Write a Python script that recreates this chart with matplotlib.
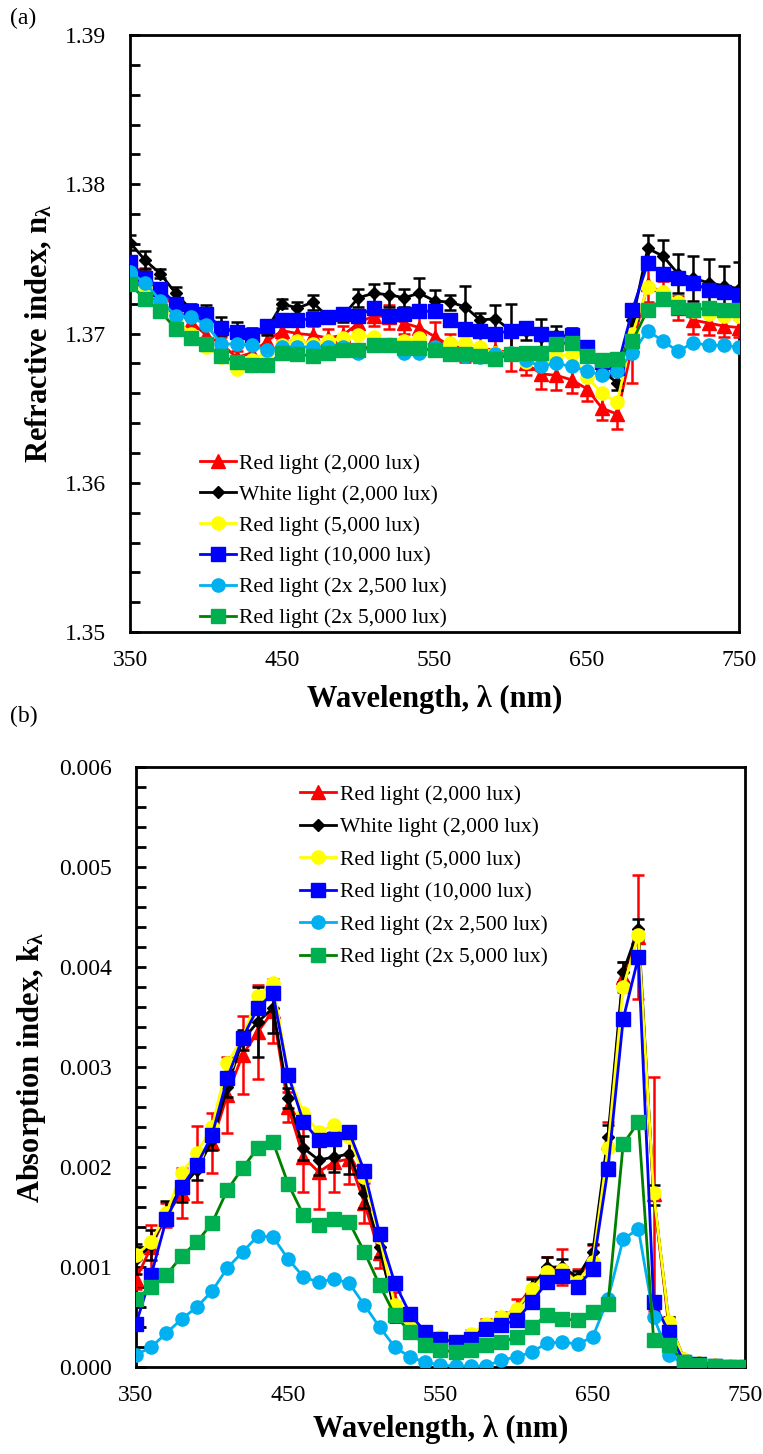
import numpy as np
import matplotlib
matplotlib.use('Agg')
import matplotlib.pyplot as plt
from matplotlib.ticker import MultipleLocator, FormatStrFormatter

plt.rcParams['font.family'] = ['Liberation Serif', 'DejaVu Serif']
plt.rcParams['mathtext.fontset'] = 'custom'
plt.rcParams['mathtext.rm'] = 'Liberation Serif'
plt.rcParams['mathtext.bf'] = 'Liberation Serif:bold'
plt.rcParams['mathtext.it'] = 'Liberation Serif:italic'

# wavelengths (nm)
wl = np.arange(350, 751, 10)
x_ticks = [350, 450, 550, 650, 750]

labels = ['Red light (2,000 lux)', 'White light (2,000 lux)', 'Red light (5,000 lux)',
          'Red light (10,000 lux)', 'Red light (2x 2,500 lux)', 'Red light (2x 5,000 lux)']

# (a) refractive index
n_red2000 = [1.3746, 1.3740, 1.3728, 1.3717, 1.3708, 1.3699, 1.3693, 1.3684, 1.3687, 1.3695,
             1.3702, 1.3700, 1.3699, 1.3697, 1.3699, 1.3707, 1.3712, 1.3711, 1.3707, 1.3704,
             1.3698, 1.3692, 1.3690, 1.3690, 1.3689, 1.3687, 1.3680, 1.3673, 1.3672, 1.3669,
             1.3663, 1.3650, 1.3646, 1.3692, 1.3733, 1.3727, 1.3717, 1.3709, 1.3707, 1.3705, 1.3704]
n_red2000_err = [0.0003, 0.0004, 0.0003, 0.0004, 0.0004, 0.0005, 0.0005, 0.0004, 0.0004, 0.0005,
                 0.0006, 0.0008, 0.0006, 0.0006, 0.0006, 0.0008, 0.0007, 0.0008, 0.0007, 0.0007,
                 0.0010, 0.0008, 0.0009, 0.0008, 0.0007, 0.0012, 0.0008, 0.0010, 0.0010, 0.0009,
                 0.0008, 0.0008, 0.0010, 0.0025, 0.0012, 0.0008, 0.0008, 0.0009, 0.0008, 0.0007, 0.0006]
n_white = [1.3761, 1.3749, 1.3740, 1.3727, 1.3716, 1.3711, 1.3705, 1.3700, 1.3699, 1.3703,
           1.3720, 1.3717, 1.3721, 1.3711, 1.3712, 1.3724, 1.3727, 1.3726, 1.3724, 1.3727,
           1.3722, 1.3721, 1.3718, 1.3709, 1.3710, 1.3702, 1.3702, 1.3698, 1.3699, 1.3698,
           1.3688, 1.3675, 1.3667, 1.3709, 1.3757, 1.3752, 1.3740, 1.3737, 1.3734, 1.3732, 1.3730]
n_white_err = [0.0005, 0.0006, 0.0003, 0.0004, 0.0004, 0.0008, 0.0006, 0.0008, 0.0005, 0.0004,
               0.0003, 0.0004, 0.0005, 0.0004, 0.0004, 0.0006, 0.0006, 0.0008, 0.0006, 0.0010,
               0.0007, 0.0005, 0.0014, 0.0005, 0.0009, 0.0018, 0.0006, 0.0012, 0.0006, 0.0006,
               0.0006, 0.0005, 0.0005, 0.0007, 0.0009, 0.0011, 0.0013, 0.0015, 0.0016, 0.0013, 0.0018]
n_red5000 = [1.3740, 1.3732, 1.3721, 1.3709, 1.3700, 1.3691, 1.3684, 1.3676, 1.3682, 1.3688,
             1.3692, 1.3695, 1.3693, 1.3695, 1.3697, 1.3699, 1.3698, 1.3693, 1.3695, 1.3697,
             1.3689, 1.3694, 1.3694, 1.3691, 1.3687, 1.3687, 1.3681, 1.3680, 1.3685, 1.3686,
             1.3671, 1.3660, 1.3654, 1.3700, 1.3731, 1.3728, 1.3721, 1.3715, 1.3713, 1.3712, 1.3712]
n_red10000 = [1.3748, 1.3737, 1.3730, 1.3720, 1.3715, 1.3713, 1.3704, 1.3701, 1.3699, 1.3705,
              1.3709, 1.3709, 1.3710, 1.3711, 1.3713, 1.3712, 1.3717, 1.3712, 1.3713, 1.3715,
              1.3715, 1.3709, 1.3703, 1.3702, 1.3700, 1.3702, 1.3704, 1.3700, 1.3697, 1.3699,
              1.3691, 1.3681, 1.3677, 1.3716, 1.3747, 1.3740, 1.3737, 1.3734, 1.3729, 1.3728, 1.3726]
n_red2x2500 = [1.3741, 1.3734, 1.3722, 1.3712, 1.3711, 1.3706, 1.3693, 1.3693, 1.3692, 1.3689,
               1.3691, 1.3691, 1.3691, 1.3691, 1.3691, 1.3687, 1.3692, 1.3692, 1.3687, 1.3687,
               1.3691, 1.3686, 1.3685, 1.3684, 1.3686, 1.3687, 1.3682, 1.3678, 1.3680, 1.3678,
               1.3675, 1.3672, 1.3675, 1.3687, 1.3702, 1.3695, 1.3688, 1.3694, 1.3692, 1.3692, 1.3691]
n_red2x5000 = [1.3733, 1.3723, 1.3715, 1.3703, 1.3697, 1.3693, 1.3685, 1.3681, 1.3679, 1.3679,
               1.3687, 1.3686, 1.3685, 1.3687, 1.3689, 1.3689, 1.3692, 1.3692, 1.3690, 1.3690,
               1.3689, 1.3686, 1.3686, 1.3685, 1.3683, 1.3686, 1.3687, 1.3687, 1.3693, 1.3694,
               1.3685, 1.3682, 1.3683, 1.3695, 1.3716, 1.3723, 1.3718, 1.3716, 1.3717, 1.3716, 1.3716]

# (b) absorption index, in units of 1e-3
k_red2000 = [0.88, 1.20, 1.52, 1.74, 2.03, 2.24, 2.72, 3.12, 3.35, 3.56,
             2.60, 2.10, 1.95, 2.05, 2.08, 1.64, 1.14, 0.65, 0.45, 0.35,
             0.28, 0.25, 0.32, 0.42, 0.48, 0.60, 0.80, 0.95, 1.00, 0.88,
             1.10, 2.25, 3.90, 4.30, 1.73, 0.40, 0.08, 0.04, 0.02, 0.01, 0.00]
k_red2000_err = [0.10, 0.22, 0.12, 0.25, 0.38, 0.30, 0.38, 0.39, 0.47, 0.32,
                 0.15, 0.35, 0.37, 0.30, 0.25, 0.20, 0.15, 0.10, 0.08, 0.05,
                 0.05, 0.04, 0.05, 0.06, 0.07, 0.08, 0.10, 0.15, 0.18, 0.10,
                 0.12, 0.20, 0.15, 0.62, 1.17, 0.10, 0.03, 0.02, 0.01, 0.01, 0.01]
k_white = [1.08, 1.22, 1.54, 1.80, 1.97, 2.27, 2.80, 3.27, 3.45, 3.59,
           2.69, 2.19, 2.07, 2.10, 2.13, 1.74, 1.20, 0.55, 0.40, 0.33,
           0.28, 0.25, 0.30, 0.40, 0.45, 0.55, 0.80, 1.00, 1.00, 0.90,
           1.15, 2.30, 3.95, 4.38, 1.72, 0.45, 0.08, 0.05, 0.02, 0.01, 0.00]
k_white_err = [0.15, 0.15, 0.12, 0.15, 0.10, 0.10, 0.10, 0.10, 0.35, 0.25,
               0.10, 0.12, 0.15, 0.15, 0.20, 0.15, 0.10, 0.10, 0.05, 0.04,
               0.03, 0.03, 0.04, 0.04, 0.05, 0.05, 0.08, 0.10, 0.08, 0.06,
               0.08, 0.12, 0.10, 0.10, 0.10, 0.05, 0.02, 0.01, 0.01, 0.01, 0.01]
k_red5000 = [1.12, 1.25, 1.54, 1.94, 2.14, 2.40, 3.04, 3.29, 3.71, 3.84,
             2.92, 2.54, 2.35, 2.42, 2.30, 1.90, 1.30, 0.62, 0.45, 0.35,
             0.30, 0.25, 0.33, 0.43, 0.50, 0.58, 0.78, 0.95, 0.97, 0.85,
             1.05, 2.19, 3.80, 4.32, 1.74, 0.45, 0.08, 0.04, 0.02, 0.01, 0.00]
k_red10000 = [0.43, 0.92, 1.48, 1.80, 2.02, 2.32, 2.89, 3.29, 3.59, 3.74,
              2.92, 2.45, 2.27, 2.28, 2.35, 1.96, 1.33, 0.84, 0.53, 0.35,
              0.28, 0.25, 0.28, 0.38, 0.42, 0.47, 0.65, 0.85, 0.91, 0.80,
              0.98, 1.98, 3.48, 4.10, 0.65, 0.35, 0.05, 0.03, 0.01, 0.00, 0.00]
k_red2x2500 = [0.12, 0.20, 0.34, 0.48, 0.60, 0.76, 0.99, 1.15, 1.31, 1.30,
               1.08, 0.90, 0.85, 0.88, 0.84, 0.62, 0.40, 0.20, 0.10, 0.05,
               0.02, 0.01, 0.01, 0.01, 0.07, 0.10, 0.15, 0.24, 0.25, 0.23,
               0.30, 0.68, 1.28, 1.38, 0.50, 0.12, 0.03, 0.01, 0.00, 0.00, 0.00]
k_red2x5000 = [0.68, 0.80, 0.92, 1.11, 1.25, 1.44, 1.77, 1.99, 2.19, 2.25,
               1.83, 1.52, 1.42, 1.48, 1.45, 1.15, 0.82, 0.52, 0.35, 0.22,
               0.17, 0.15, 0.17, 0.22, 0.25, 0.30, 0.40, 0.52, 0.48, 0.47,
               0.55, 0.63, 2.23, 2.45, 0.27, 0.22, 0.05, 0.02, 0.01, 0.00, 0.00]

# style per series: line colour, marker, marker colour, marker size
styles = [
    ('#FF0000', '^', '#FF0000', 9.5),
    ('#000000', 'D', '#000000', 6.5),
    ('#FFFF00', 'o', '#FFFF00', 9.5),
    ('#0000FF', 's', '#0000FF', 9.5),
    ('#00B0F0', 'o', '#00B0F0', 9.5),
    ('#008000', 's', '#00B050', 9.5),
]


def draw(ax, series, errs):
    for i, (y, lab) in enumerate(zip(series, labels)):
        lc, mk, mc, ms = styles[i]
        ax.plot(wl, y, color=lc, lw=2, marker=mk, ms=ms, mfc=mc, mec=mc,
                label=lab, zorder=3 + i)
        if errs[i] is not None:
            ax.errorbar(wl, y, yerr=errs[i], fmt='none', ecolor=lc, elinewidth=1.8,
                        capsize=4, capthick=1.8, zorder=3 + i)


def style_axes(ax, xlabelpad):
    for s in ax.spines.values():
        s.set_linewidth(2)
        s.set_color('black')
    ax.set_xlim(350, 750)
    ax.set_xticks(x_ticks)
    ax.tick_params(axis='x', length=0, labelsize=17, pad=13)
    ax.tick_params(axis='y', which='both', direction='in', length=7, width=2,
                   labelsize=17, pad=17)
    ax.set_xlabel('Wavelength, λ (nm)', fontsize=22, fontweight='bold', labelpad=xlabelpad)


fig = plt.figure(figsize=(7.63, 14.54), dpi=100)

ax1 = fig.add_axes([0.1704, 0.5653, 0.7982, 0.4106])
draw(ax1, [n_red2000, n_white, n_red5000, n_red10000, n_red2x2500, n_red2x5000],
     [n_red2000_err, n_white_err, None, None, None, None])
style_axes(ax1, 10)
ax1.set_ylim(1.35, 1.39)
ax1.yaxis.set_major_locator(MultipleLocator(0.01))
ax1.yaxis.set_minor_locator(MultipleLocator(0.002))
ax1.yaxis.set_major_formatter(FormatStrFormatter('%.2f'))
ax1.set_ylabel(r'Refractive index, n$_{\mathbf{λ}}$', fontsize=22, fontweight='bold', labelpad=8)
ax1.legend(loc='upper left', bbox_to_anchor=(0.10, 0.313), frameon=False, fontsize=15.5,
           handlelength=1.7, handletextpad=0.15, labelspacing=0.5, borderaxespad=0)

ax2 = fig.add_axes([0.1782, 0.0598, 0.7982, 0.4127])
kk = [np.array(v) * 1e-3 for v in [k_red2000, k_white, k_red5000, k_red10000, k_red2x2500, k_red2x5000]]
draw(ax2, kk, [np.array(k_red2000_err) * 1e-3, np.array(k_white_err) * 1e-3, None, None, None, None])
style_axes(ax2, 6)
ax2.set_ylim(0, 0.006)
ax2.yaxis.set_major_locator(MultipleLocator(0.001))
ax2.yaxis.set_minor_locator(MultipleLocator(0.0002))
ax2.yaxis.set_major_formatter(FormatStrFormatter('%.3f'))
ax2.set_ylabel(r'Absorption index, k$_{\mathbf{λ}}$', fontsize=22, fontweight='bold', labelpad=8)
ax2.legend(loc='upper left', bbox_to_anchor=(0.255, 0.985), frameon=False, fontsize=15.5,
           handlelength=1.7, handletextpad=0.15, labelspacing=0.58, borderaxespad=0)

fig.text(0.013, 0.987, '(a)', fontsize=17, va='center')
fig.text(0.013, 0.507, '(b)', fontsize=17, va='center')

plt.savefig('out.png', dpi=100)
